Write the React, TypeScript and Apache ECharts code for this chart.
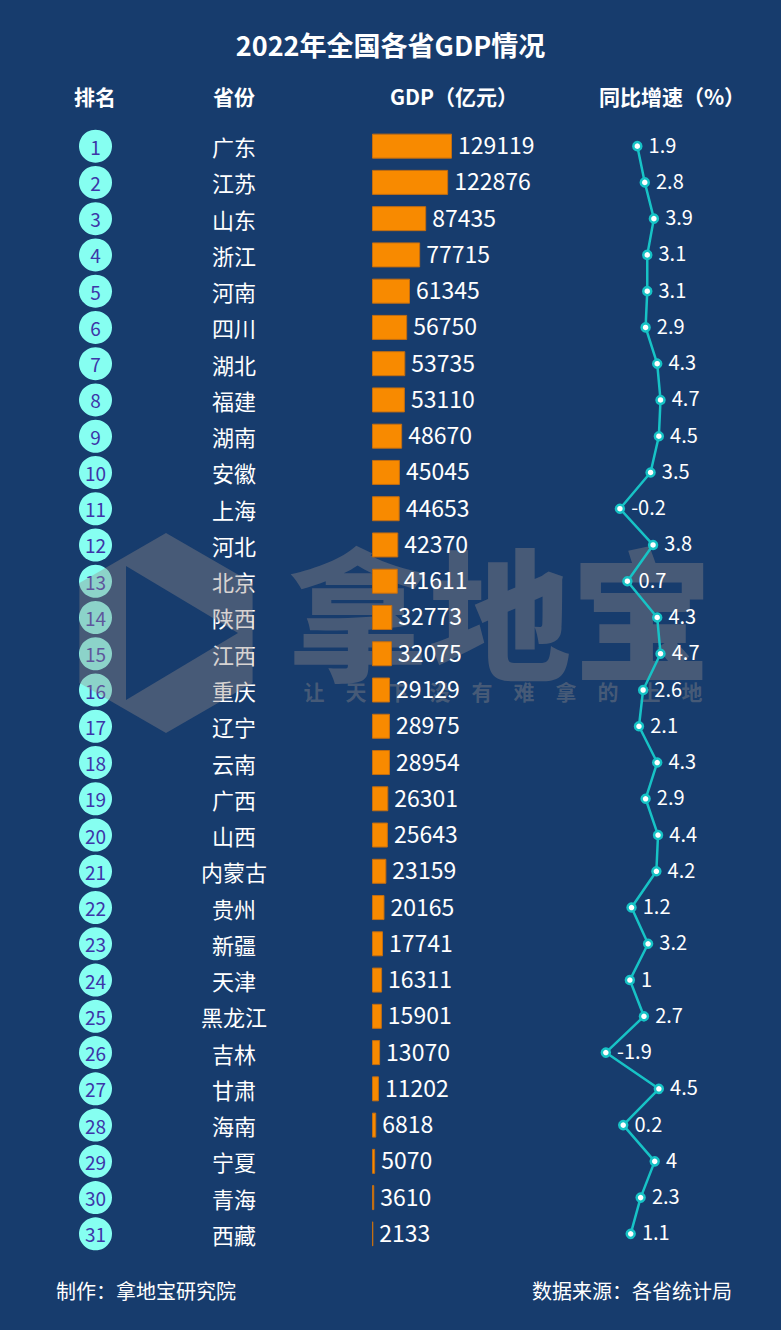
import React, { useEffect, useRef } from "react";
import * as echarts from "echarts";

const provinces = ["广东", "江苏", "山东", "浙江", "河南", "四川", "湖北", "福建", "湖南", "安徽", "上海", "河北", "北京", "陕西", "江西", "重庆", "辽宁", "云南", "广西", "山西", "内蒙古", "贵州", "新疆", "天津", "黑龙江", "吉林", "甘肃", "海南", "宁夏", "青海", "西藏"];
const ranks = [1, 2, 3, 4, 5, 6, 7, 8, 9, 10, 11, 12, 13, 14, 15, 16, 17, 18, 19, 20, 21, 22, 23, 24, 25, 26, 27, 28, 29, 30, 31];
const gdp = [129119, 122876, 87435, 77715, 61345, 56750, 53735, 53110, 48670, 45045, 44653, 42370, 41611, 32773, 32075, 29129, 28975, 28954, 26301, 25643, 23159, 20165, 17741, 16311, 15901, 13070, 11202, 6818, 5070, 3610, 2133];
const growth = [1.9, 2.8, 3.9, 3.1, 3.1, 2.9, 4.3, 4.7, 4.5, 3.5, -0.2, 3.8, 0.7, 4.3, 4.7, 2.6, 2.1, 4.3, 2.9, 4.4, 4.2, 1.2, 3.2, 1, 2.7, -1.9, 4.5, 0.2, 4, 2.3, 1.1];
const headers = ["排名", "省份", "GDP（亿元）", "同比增速（%）"];
const titleText = "2022年全国各省GDP情况";
const footerLeft = "制作：拿地宝研究院";
const footerRight = "数据来源：各省统计局";
const watermarkMain = "拿地宝";
const watermarkSub = "让　天　下　没　有　难　拿　的　土　地";

const BG = "#173c6d";
const FONT = "'Noto Sans CJK SC', 'Noto Sans', sans-serif";
const WM = "rgba(150,140,138,0.38)";

echarts.graphic.registerShape(
  "wmlogo",
  echarts.graphic.extendPath(
    "M166 533 L252.6 583 L252.6 683 L166 733 L79.4 683 L79.4 583 Z M126 566 L126 700 L238 633 Z",
    {}
  )
);

export default function App() {
  const ref = useRef<HTMLDivElement>(null);
  useEffect(() => {
    if (!ref.current) return;
    const chart = echarts.init(ref.current, null, { renderer: "svg" });
    const gridTop = 128;
    const gridBottom = 78;
    const headerX = [95, 234, 454, 672];
    const option: any = {
      animation: false,
      backgroundColor: BG,
      title: {
        text: titleText,
        left: "center",
        top: 26,
        textStyle: { color: "#fff", fontSize: 27, fontWeight: "bold", fontFamily: FONT },
      },
      grid: [
        { left: 79, width: 33, top: gridTop, bottom: gridBottom },
        { left: 372, width: 80, top: gridTop, bottom: gridBottom },
        { left: 605, width: 58, top: gridTop, bottom: gridBottom },
      ],
      xAxis: [
        { gridIndex: 0, type: "category", data: ["rank"], show: false },
        { gridIndex: 1, type: "value", min: 0, max: 129119, show: false },
        { gridIndex: 2, type: "value", min: -2, max: 5, show: false },
      ],
      yAxis: [
        { gridIndex: 0, type: "category", data: provinces, inverse: true, show: false },
        {
          gridIndex: 1,
          type: "category",
          data: provinces,
          inverse: true,
          z: 0,
          axisLine: { show: false },
          axisTick: { show: false },
          splitLine: { show: false },
          axisLabel: {
            color: "#fff",
            fontSize: 22,
            fontFamily: FONT,
            align: "center",
            margin: 138,
            padding: [5, 0, 0, 0],
          },
        },
        { gridIndex: 2, type: "category", data: provinces, inverse: true, show: false, boundaryGap: true },
      ],
      graphic: [
        ...headers.map((h, i) => ({
          type: "text",
          x: headerX[i],
          y: 96,
          z: 5,
          style: {
            text: h,
            fill: "#fff",
            fontSize: 21,
            fontWeight: "bold",
            fontFamily: FONT,
            align: "center",
            verticalAlign: "middle",
          },
        })),
        {
          type: "text",
          left: 56,
          top: 1280,
          style: { text: footerLeft, fill: "#fff", fontSize: 20, fontFamily: FONT },
        },
        {
          type: "text",
          right: 49,
          top: 1280,
          style: { text: footerRight, fill: "#fff", fontSize: 20, fontFamily: FONT },
        },
        {
          type: "wmlogo",
          x: 0,
          y: 0,
          z: 1,
          silent: true,
          style: { fill: WM },
        },
        {
          type: "text",
          x: 500,
          y: 608,
          z: 1,
          silent: true,
          style: {
            text: watermarkMain,
            fill: WM,
            fontSize: 142,
            fontWeight: 900,
            fontFamily: FONT,
            align: "center",
            verticalAlign: "middle",
          },
        },
        {
          type: "text",
          x: 503,
          y: 691,
          z: 1,
          silent: true,
          style: {
            text: watermarkSub,
            fill: WM,
            fontSize: 21,
            fontWeight: "bold",
            fontFamily: FONT,
            align: "center",
            verticalAlign: "middle",
          },
        },
      ],
      series: [
        {
          type: "scatter",
          xAxisIndex: 0,
          yAxisIndex: 0,
          z: 0,
          symbol: "circle",
          symbolSize: 33,
          itemStyle: { color: "#86fff1", opacity: 1 },
          label: {
            show: true,
            position: "inside",
            formatter: (p: any) => String(ranks[p.dataIndex]),
            color: "#3d36a8",
            fontSize: 19,
            fontFamily: FONT,
          },
          data: provinces.map((p) => ["rank", p]),
        },
        {
          type: "bar",
          xAxisIndex: 1,
          yAxisIndex: 1,
          z: 2,
          barWidth: 25,
          itemStyle: { color: "#f88a00", borderColor: "#c26d12", borderWidth: 1 },
          label: {
            show: true,
            position: "right",
            distance: 6,
            color: "#fff",
            fontSize: 23,
            fontFamily: FONT,
            offset: [0, -2],
          },
          data: gdp,
        },
        {
          type: "line",
          xAxisIndex: 2,
          yAxisIndex: 2,
          z: 3,
          symbol: "circle",
          symbolSize: 8,
          lineStyle: { color: "#17c3c6", width: 2.5 },
          itemStyle: { color: "#ffffff", borderColor: "#17c3c6", borderWidth: 2.5 },
          label: {
            show: true,
            position: "right",
            distance: 6,
            color: "#fff",
            fontSize: 20,
            fontFamily: FONT,
            offset: [0, -2],
          },
          data: growth.map((g, i) => [g, provinces[i]]),
        },
      ],
    };
    chart.setOption(option);
    return () => chart.dispose();
  }, []);
  return (
    <div
      ref={ref}
      style={{ position: "absolute", left: 0, top: 0, width: 781, height: 1330 }}
    />
  );
}
